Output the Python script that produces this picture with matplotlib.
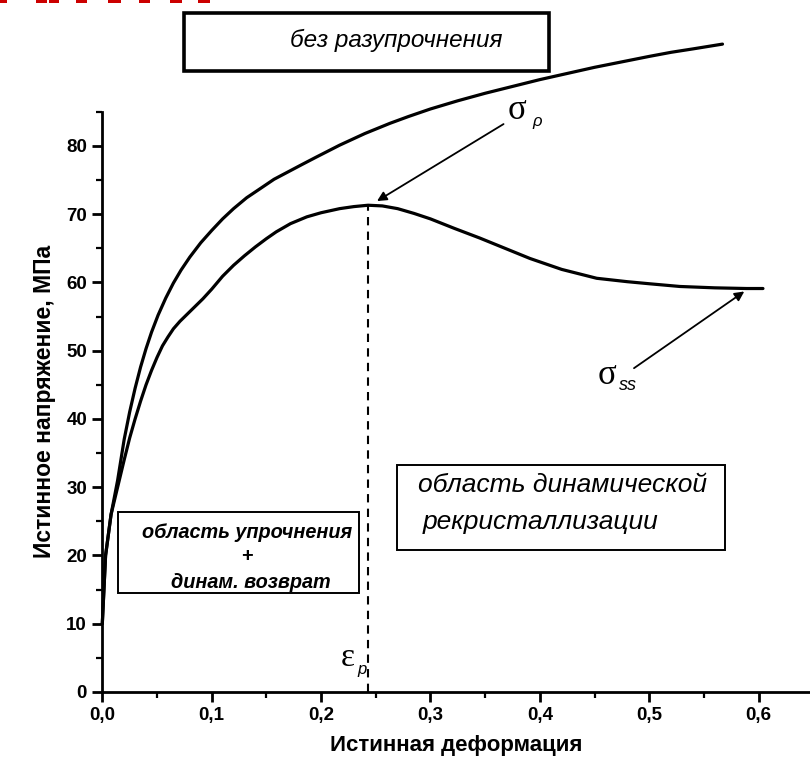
import matplotlib.pyplot as plt
from matplotlib.patches import Rectangle
from matplotlib.ticker import MultipleLocator, FuncFormatter

plt.rcParams['font.family'] = ['Liberation Sans', 'DejaVu Sans']

# кривая без разупрочнения
upper_x = [0.0, 0.003, 0.008, 0.014, 0.02, 0.025, 0.03, 0.035, 0.04, 0.045, 0.051, 0.058,
           0.065, 0.072, 0.08, 0.09, 0.10, 0.11, 0.12, 0.132, 0.145, 0.157, 0.17, 0.183,
           0.195, 0.217, 0.24, 0.263, 0.28, 0.30, 0.325, 0.35, 0.375, 0.40, 0.425, 0.45,
           0.475, 0.50, 0.52, 0.54, 0.567]
upper_y = [10, 20, 26, 31, 37, 41, 44.5, 47.6, 50.3, 52.7, 55.2, 57.7,
           59.9, 61.8, 63.7, 65.8, 67.6, 69.3, 70.8, 72.4, 73.8, 75.1, 76.2, 77.3,
           78.3, 80.1, 81.8, 83.3, 84.3, 85.4, 86.6, 87.7, 88.7, 89.7, 90.6, 91.5,
           92.3, 93.1, 93.7, 94.2, 94.9]

# кривая с динамической рекристаллизацией
lower_x = [0.0, 0.003, 0.008, 0.014, 0.02, 0.025, 0.03, 0.035, 0.04, 0.045, 0.05, 0.055,
           0.06, 0.065, 0.071, 0.078, 0.085, 0.092, 0.10, 0.11, 0.12, 0.13, 0.14, 0.15,
           0.159, 0.172, 0.187, 0.20, 0.217, 0.23, 0.243, 0.256, 0.27, 0.285, 0.30,
           0.322, 0.345, 0.368, 0.391, 0.42, 0.452, 0.48, 0.50, 0.528, 0.56, 0.589, 0.604]
lower_y = [10, 20, 26, 30, 34, 37.2, 40, 42.6, 45, 47.1, 49, 50.7,
           52, 53.2, 54.3, 55.4, 56.5, 57.6, 59, 60.9, 62.5, 63.9, 65.2, 66.4,
           67.4, 68.6, 69.6, 70.2, 70.8, 71.1, 71.3, 71.2, 70.8, 70.1, 69.3,
           67.9, 66.5, 65, 63.5, 61.9, 60.6, 60.1, 59.8, 59.4, 59.2, 59.1, 59.1]

eps_p = 0.243
sigma_p = 71.3
eps_ss = 0.589
sigma_ss = 59.1

x_ticks = [0.0, 0.1, 0.2, 0.3, 0.4, 0.5, 0.6]
y_ticks = [0, 10, 20, 30, 40, 50, 60, 70, 80]

fig = plt.figure(figsize=(8.1, 7.66), dpi=100)
W, H = 810, 766
ax = fig.add_axes([102.3 / W, 1 - 692 / H, (810 - 102.3) / W, (692 - 111.7) / H])

ax.plot(upper_x, upper_y, color='black', lw=2.3, clip_on=False, solid_capstyle='round',
        solid_joinstyle='round')
ax.plot(lower_x, lower_y, color='black', lw=2.3, clip_on=False, solid_capstyle='round',
        solid_joinstyle='round')
ax.plot([eps_p, eps_p], [0, sigma_p], color='black', lw=1.5, ls=(0, (4, 3)))

ax.set_xlim(0, 0.647)
ax.set_ylim(0, 85)
for s in ['top', 'right']:
    ax.spines[s].set_visible(False)
for s in ['left', 'bottom']:
    ax.spines[s].set_linewidth(2.0)

ax.set_xticks(x_ticks)
ax.set_yticks(y_ticks)
ax.xaxis.set_minor_locator(MultipleLocator(0.05))
ax.yaxis.set_minor_locator(MultipleLocator(5))
ax.xaxis.set_major_formatter(FuncFormatter(lambda v, p: f'{v:.1f}'.replace('.', ',')))
ax.tick_params(which='major', length=7, width=2, labelsize=13.5, pad=4)
ax.tick_params(which='minor', length=4, width=1.6)
for lab in ax.get_xticklabels() + ax.get_yticklabels():
    lab.set_fontweight('bold')

ax.set_xlabel('Истинная деформация', fontsize=16, fontweight='bold', labelpad=8)
ax.set_ylabel('Истинное напряжение, МПа', fontsize=16.5, fontweight='bold', labelpad=7)

# стрелки к характерным точкам
arrow = dict(arrowstyle='-|>', color='black', lw=1.3, mutation_scale=14)
ax.annotate('', xy=(0.249, sigma_p + 0.4), xytext=(0.369, 83.4), arrowprops=arrow,
            annotation_clip=False)
ax.annotate('', xy=(eps_ss, sigma_ss - 0.2), xytext=(0.484, 47.2), arrowprops=arrow,
            annotation_clip=False)

serif = ['Liberation Serif', 'DejaVu Serif']
ax.text(0.379, 85.2, 'σ', fontsize=25, ha='center', va='center', clip_on=False,
        family=serif)
ax.text(0.393, 83.6, 'ρ', fontsize=12, style='italic', ha='left', va='center', clip_on=False)
ax.text(0.461, 46.3, 'σ', fontsize=25, ha='center', va='center', family=serif)
ax.text(0.472, 44.9, 'ss', fontsize=13, style='italic', ha='left', va='center')
ax.text(0.224, 5.0, 'ε', fontsize=24, ha='center', va='center', family=serif)
ax.text(0.233, 3.3, 'p', fontsize=12, style='italic', ha='left', va='center')

# рамки с подписями
def frame(x0, y0, x1, y1, lw):
    fig.patches.append(Rectangle((x0 / W, 1 - y1 / H), (x1 - x0) / W, (y1 - y0) / H,
                                 transform=fig.transFigure, fill=False,
                                 edgecolor='black', lw=lw))

frame(184, 13, 549, 71, 2.6)
fig.text(396 / W, 1 - 40 / H, 'без разупрочнения', fontsize=17.5, style='italic',
         ha='center', va='center')

frame(118, 512, 359, 593, 1.4)
fig.text(247 / W, 1 - 533 / H, 'область упрочнения', fontsize=14.3, style='italic',
         fontweight='bold', ha='center', va='center')
fig.text(247 / W, 1 - 557 / H, '+', fontsize=14.3, fontweight='bold',
         ha='center', va='center')
fig.text(251 / W, 1 - 583 / H, 'динам. возврат', fontsize=14.3, style='italic',
         fontweight='bold', ha='center', va='center')

frame(397, 465, 725, 550, 1.4)
fig.text(562 / W, 1 - 485 / H, 'область динамической', fontsize=19, style='italic',
         ha='center', va='center')
fig.text(541 / W, 1 - 522 / H, 'рекристаллизации', fontsize=19, style='italic',
         ha='center', va='center')

# обрезанный заголовок сверху
for x0, x1 in [(0, 7), (36, 47), (49, 59), (76, 87), (108, 121), (139, 150),
               (170, 182), (198, 210)]:
    fig.patches.append(Rectangle((x0 / W, 1 - 3 / H), (x1 - x0) / W, 3 / H,
                                 transform=fig.transFigure, color='#cc0000', lw=0))

fig.savefig('out.png', dpi=100)
